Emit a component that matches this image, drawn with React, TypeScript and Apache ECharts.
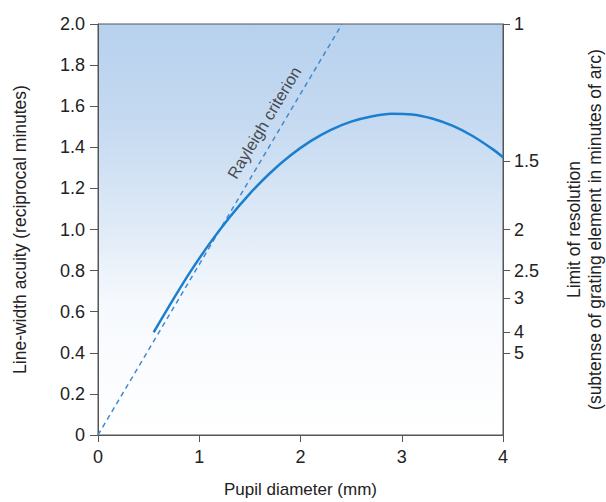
import React, { useEffect, useRef } from "react";
import * as echarts from "echarts";

const pupilDiameter = [0.55, 0.7, 0.9, 1.1, 1.3, 1.5, 1.7, 1.9, 2.1, 2.3, 2.5, 2.7, 2.9, 3.1, 3.3, 3.5, 3.7, 3.9, 4.0];
const lineWidthAcuity = [0.5, 0.625, 0.785, 0.93, 1.06, 1.175, 1.275, 1.36, 1.43, 1.485, 1.525, 1.55, 1.563, 1.56, 1.54, 1.505, 1.455, 1.39, 1.352];
const rayleighX = [0, 2.41];
const rayleighY = [0, 2.0];
const xTicks = [0, 1, 2, 3, 4];
const resolutionTicks = [1, 1.5, 2, 2.5, 3, 4, 5];
const rayleighLabelPos = [1.64, 1.52];

const FONT = "'Liberation Sans', Arial, sans-serif";

export default function App() {
  const ref = useRef<HTMLDivElement>(null);
  useEffect(() => {
    if (!ref.current) return;
    const chart = echarts.init(ref.current, undefined, { renderer: "svg" });
    const axisLine = { lineStyle: { color: "#555", width: 1 } };
    chart.setOption({
      animation: false,
      textStyle: { fontFamily: FONT },
      grid: {
        left: 98,
        right: 103,
        top: 24,
        bottom: 67,
        outerBoundsMode: "none",
        containLabel: false,
        show: true,
        borderColor: "#555",
        borderWidth: 1,
        backgroundColor: new echarts.graphic.LinearGradient(0, 0, 0, 1, [
          { offset: 0, color: "#b7d1ee" },
          { offset: 0.25, color: "#c6daf1" },
          { offset: 0.5, color: "#e0ebf7" },
          { offset: 0.68, color: "#f6f9fd" },
          { offset: 1, color: "#ffffff" },
        ]),
      },
      xAxis: {
        type: "value",
        min: xTicks[0],
        max: xTicks[xTicks.length - 1],
        interval: 1,
        axisLine,
        axisTick: { show: true, length: 7, lineStyle: { color: "#555" } },
        splitLine: { show: false },
        axisLabel: { fontSize: 18, color: "#222", margin: 13, fontFamily: FONT },
        name: "Pupil diameter (mm)",
        nameLocation: "middle",
        nameGap: 46,
        nameTextStyle: { fontSize: 17, color: "#222", fontFamily: FONT },
      },
      yAxis: [
        {
          type: "value",
          min: 0,
          max: 2,
          interval: 0.2,
          axisLine: { show: true, ...axisLine },
          axisTick: { show: true, length: 8, lineStyle: { color: "#555" } },
          splitLine: { show: false },
          axisLabel: {
            fontSize: 18,
            color: "#222",
            margin: 13,
            fontFamily: FONT,
            formatter: (v: number) => (v === 0 ? "0" : v.toFixed(1)),
          },
          name: "Line-width acuity (reciprocal minutes)",
          nameLocation: "middle",
          nameGap: 69,
          nameTextStyle: { fontSize: 17.5, color: "#222", fontFamily: FONT },
        },
        {
          type: "value",
          position: "right",
          min: 0,
          max: 2,
          axisLine: { show: true, ...axisLine },
          axisTick: {
            show: true,
            length: 7,
            lineStyle: { color: "#555" },
            customValues: resolutionTicks.map((r) => 2 / r),
          },
          splitLine: { show: false },
          axisLabel: {
            fontSize: 18,
            color: "#222",
            margin: 11,
            fontFamily: FONT,
            customValues: resolutionTicks.map((r) => 2 / r),
            formatter: (v: number) => String(Math.round((2 / v) * 10) / 10),
          },
          name: "Limit of resolution\n(subtense of grating element in minutes of arc)",
          nameLocation: "middle",
          nameRotate: 90,
          nameGap: 60,
          nameTextStyle: { fontSize: 17.5, color: "#222", fontFamily: FONT, lineHeight: 21 },
        },
      ],
      series: [
        {
          type: "line",
          data: rayleighX.map((x, i) => [x, rayleighY[i]]),
          symbol: "none",
          lineStyle: { color: "#3f8ad0", width: 1.5, type: [5, 4] },
          z: 2,
        },
        {
          type: "line",
          data: pupilDiameter.map((x, i) => [x, lineWidthAcuity[i]]),
          symbol: "none",
          smooth: 0.3,
          lineStyle: { color: "#1b7fd0", width: 2.5 },
          z: 3,
        },
        {
          type: "scatter",
          data: [rayleighLabelPos],
          symbolSize: 0,
          silent: true,
          label: {
            show: true,
            position: "inside",
            formatter: "Rayleigh criterion",
            rotate: 59,
            fontSize: 16.5,
            color: "#222",
            fontFamily: FONT,
          },
        },
      ],
    });
    return () => chart.dispose();
  }, []);
  return <div ref={ref} style={{ width: 606, height: 502, position: "absolute", left: 0, top: 0, background: "#fff" }} />;
}
